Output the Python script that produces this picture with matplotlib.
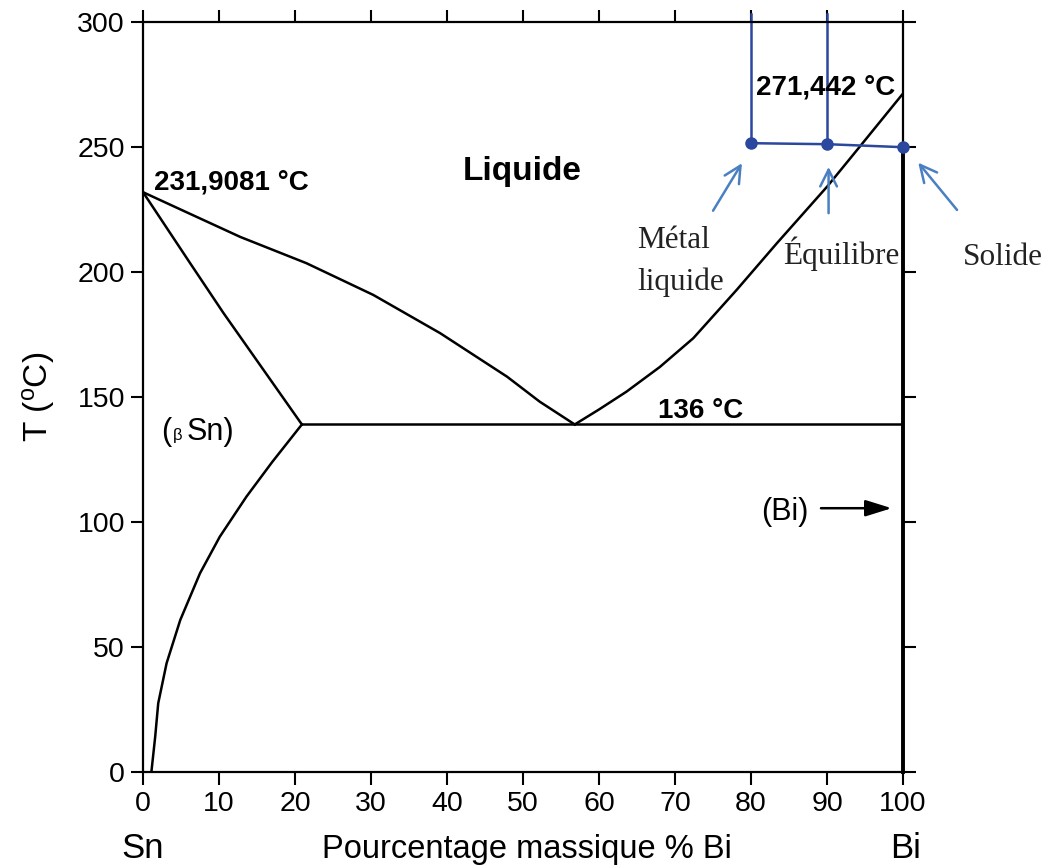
import matplotlib
matplotlib.use("Agg")
import matplotlib.pyplot as plt

plt.rcParams['font.family'] = ['Liberation Sans', 'DejaVu Sans']

# phase boundaries (wt% Bi, °C)
liq_sn_x = [0, 6.0, 12.8, 21.5, 30.3, 39.1, 47.9, 52.2, 56.8]
liq_sn_T = [231.9, 223.5, 214.0, 203.5, 190.8, 175.5, 158.1, 148.1, 139.0]

sol_sn_x = [0, 6.2, 10.6, 20.9]
sol_sn_T = [231.9, 203.5, 183.5, 139.0]

solvus_x = [20.9, 17.0, 13.6, 10.1, 7.5, 4.9, 3.1, 2.0, 1.6, 1.1]
solvus_T = [139.0, 124.0, 110.1, 94.1, 79.5, 60.8, 43.5, 27.5, 14.1, 0.0]

liq_bi_x = [56.8, 60.0, 63.6, 68.0, 72.4, 78.1, 83.4, 90.0, 94.3, 100.0]
liq_bi_T = [139.0, 145.0, 152.1, 162.0, 173.5, 192.8, 211.5, 234.1, 250.1, 271.4]

eut_x = [20.9, 100.0]
eut_T = [139.0, 139.0]

bi_x = [100.0, 100.0]
bi_T = [0.0, 250.0]

# blue probe points
probe_x = [80, 90, 100]
probe_T = [251.5, 251.1, 249.9]
probe_top = 303

xticks = [0, 10, 20, 30, 40, 50, 60, 70, 80, 90, 100]
yticks = [0, 50, 100, 150, 200, 250, 300]

fig = plt.figure(figsize=(10.54, 8.67), dpi=100)
ax = fig.add_axes([0.1357, 0.1096, 0.7211, 0.8651])

lw = 1.8
ax.plot(liq_sn_x, liq_sn_T, color='black', lw=lw)
ax.plot(sol_sn_x, sol_sn_T, color='black', lw=lw)
ax.plot(solvus_x, solvus_T, color='black', lw=lw)
ax.plot(liq_bi_x, liq_bi_T, color='black', lw=lw)
ax.plot(eut_x, eut_T, color='black', lw=lw)
ax.plot(bi_x, bi_T, color='black', lw=2.8, clip_on=False)

ax.set_xlim(0, 100)
ax.set_ylim(0, 300)
ax.set_xticks(xticks)
ax.set_yticks(yticks)
ax.tick_params(direction='out', length=9, width=1.5, top=True, right=True,
               labelsize=20.5)
ax.tick_params(axis='x', pad=5)
ax.tick_params(axis='y', pad=4)
for s in ax.spines.values():
    s.set_linewidth(1.6)

ax.set_ylabel('T ($\\mathregular{^o}$C)', fontsize=24)
ax.yaxis.label.set_va('center')
ax.yaxis.set_label_coords(-0.138, 0.5)
ax.set_xlabel('Pourcentage massique % Bi', fontsize=23.5)
ax.xaxis.label.set_va('baseline')
ax.xaxis.set_label_coords(0.505, -0.1147)
ax.text(0, -34.4, 'Sn', fontsize=25, ha='center', va='baseline', clip_on=False)
ax.text(100.3, -34.4, 'Bi', fontsize=25, ha='center', va='baseline', clip_on=False)

# annotations on the diagram
bold = dict(fontsize=20, fontweight='bold', va='baseline')
ax.text(1.45, 233.1, '231,9081 °C', **bold)
ax.text(80.7, 270.8, '271,442 °C', **bold)
ax.text(67.8, 141.5, '136 °C', **bold)
ax.text(42.1, 236.8, 'Liquide', fontsize=24, fontweight='bold', va='baseline')

ax.text(2.4, 132.8, '(', fontsize=22, va='baseline')
ax.text(3.9, 132.8, 'β', fontsize=12, va='baseline')
ax.text(5.75, 132.8, 'Sn)', fontsize=22, va='baseline')

ax.text(87.5, 100.8, '(Bi)', fontsize=22, ha='right', va='baseline')
ax.annotate('', xy=(98.5, 105.5), xytext=(89.2, 105.5),
            arrowprops=dict(arrowstyle='-|>,head_length=0.8,head_width=0.25',
                            color='black', lw=1.8, mutation_scale=20,
                            shrinkA=0, shrinkB=0))

# blue overlay
dark_blue = '#2b479e'
for px, pt in zip(probe_x[:2], probe_T[:2]):
    ax.plot([px, px], [pt, probe_top], color=dark_blue, lw=1.8, clip_on=False)
ax.plot(probe_x, probe_T, color=dark_blue, lw=1.8, marker='o', ms=8,
        clip_on=False, zorder=5)

arrow_blue = '#4a7fc1'
arrows = [((75.0, 224.5), (78.8, 243.5)),
          ((90.2, 223.5), (90.2, 242.0)),
          ((107.1, 224.8), (102.0, 243.7))]
for start, end in arrows:
    ax.annotate('', xy=end, xytext=start, annotation_clip=False,
                arrowprops=dict(arrowstyle='->,head_length=0.6,head_width=0.3',
                                color=arrow_blue, lw=1.8, mutation_scale=20,
                                shrinkA=0, shrinkB=0))

serif = dict(family='Liberation Serif', fontsize=22.5, color='#222222',
             va='baseline', clip_on=False)
ax.text(65.0, 209.6, 'Métal', **serif)
ax.text(65.0, 192.8, 'liquide', **serif)
ax.text(84.2, 203.1, 'Équilibre', **serif)
ax.text(107.9, 202.8, 'Solide', **serif)

fig.savefig('out.png', dpi=100)
